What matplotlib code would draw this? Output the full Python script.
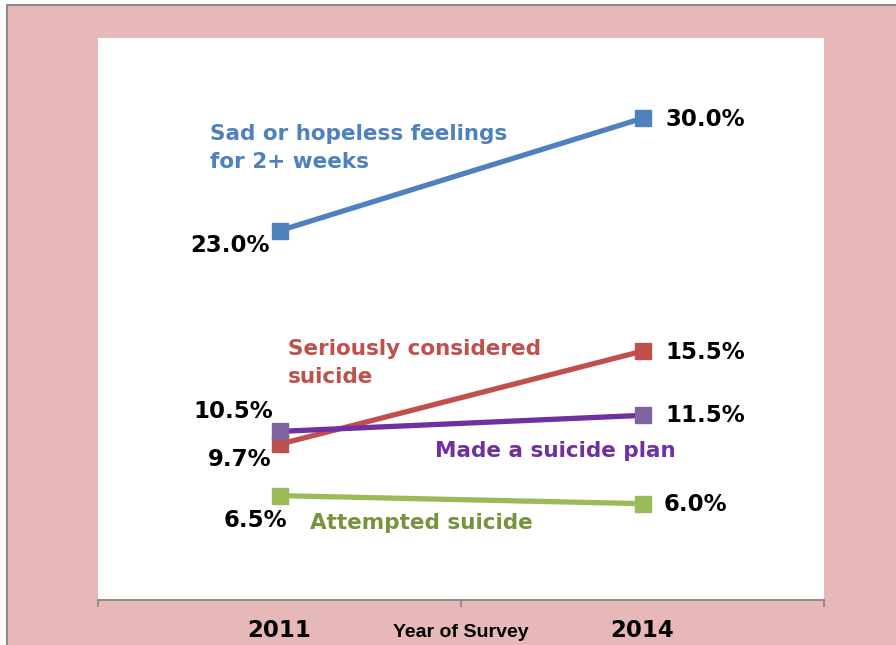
import numpy as np
import matplotlib
matplotlib.use('Agg')
import matplotlib.pyplot as plt
from matplotlib.patches import Rectangle

# data
years = ['2011', '2014']
sad = [23.0, 30.0]
considered = [9.7, 15.5]
plan = [10.5, 11.5]
attempted = [6.5, 6.0]

plt.rcParams['font.family'] = ['DejaVu Sans']

fig = plt.figure(figsize=(8.96, 6.45), dpi=100)
fig.patch.set_facecolor('white')
# pink background with grey top/left border
bg = Rectangle((7 / 896, -0.02), 1.05, 1 - 5 / 645 + 0.02, transform=fig.transFigure,
               facecolor='#e6b8b7', edgecolor='#8c8c8c', linewidth=1.5, zorder=-10)
fig.patches.append(bg)

ax = fig.add_axes([98 / 896, 45 / 645, 726 / 896, 562 / 645])
ax.set_zorder(1)
ax.set_facecolor('white')
ax.set_xlim(0, 2)
ax.set_ylim(0, 35)

x = np.array([0.5, 1.5])
blue = '#4f81bd'
red = '#c0504d'
purple = '#7030a0'
green = '#9bbb59'

lw = 3.8
ms = 11
ax.plot(x, sad, color=blue, lw=lw, marker='s', ms=ms, mfc=blue, mec=blue)
ax.plot(x, considered, color=red, lw=lw, marker='s', ms=ms, mfc=red, mec=red)
ax.plot(x, plan, color=purple, lw=lw, marker='s', ms=ms, mfc='#8064a2', mec='#8064a2')
ax.plot(x, attempted, color=green, lw=lw, marker='s', ms=ms, mfc=green, mec=green)

vfs = 16.5
lfs = 15.5
# value labels
ax.text(0.474, 22.1, '%.1f%%' % sad[0], ha='right', va='center', fontsize=vfs, fontweight='bold')
ax.text(1.562, 29.9, '%.1f%%' % sad[1], ha='left', va='center', fontsize=vfs, fontweight='bold')
ax.text(0.482, 11.77, '%.1f%%' % plan[0], ha='right', va='center', fontsize=vfs, fontweight='bold')
ax.text(0.479, 8.72, '%.1f%%' % considered[0], ha='right', va='center', fontsize=vfs, fontweight='bold')
ax.text(1.562, 15.44, '%.1f%%' % considered[1], ha='left', va='center', fontsize=vfs, fontweight='bold')
ax.text(1.562, 11.46, '%.1f%%' % plan[1], ha='left', va='center', fontsize=vfs, fontweight='bold')
ax.text(0.521, 4.98, '%.1f%%' % attempted[0], ha='right', va='center', fontsize=vfs, fontweight='bold')
ax.text(1.557, 5.92, '%.1f%%' % attempted[1], ha='left', va='center', fontsize=vfs, fontweight='bold')

# series labels
ax.text(0.309, 28.15, 'Sad or hopeless feelings\nfor 2+ weeks', color=blue, ha='left', va='center',
        fontsize=lfs, fontweight='bold', linespacing=1.5)
ax.text(0.523, 14.76, 'Seriously considered\nsuicide', color=red, ha='left', va='center',
        fontsize=lfs, fontweight='bold', linespacing=1.5)
ax.text(0.928, 9.28, 'Made a suicide plan', color=purple, ha='left', va='center',
        fontsize=lfs, fontweight='bold')
ax.text(0.584, 4.79, 'Attempted suicide', color='#77933c', ha='left', va='center',
        fontsize=lfs, fontweight='bold')

# axes styling
for s in ['top', 'right', 'left']:
    ax.spines[s].set_visible(False)
ax.spines['bottom'].set_color('#868686')
ax.spines['bottom'].set_linewidth(1.3)
ax.set_yticks([])
ax.set_xticks([0, 1, 2])
ax.set_xticklabels([])
ax.tick_params(axis='x', direction='out', length=5, width=1.2, color='#868686')

for xi, yr in zip(x, years):
    ax.text(xi, -1.9, yr, ha='center', va='center', fontsize=vfs, fontweight='bold', clip_on=False)
ax.text(1.0, -2.05, 'Year of Survey', ha='center', va='center', fontsize=14, fontweight='bold',
        family=['Liberation Sans Narrow', 'Liberation Sans'], clip_on=False)

fig.savefig('out.png', dpi=100, facecolor=fig.get_facecolor())
